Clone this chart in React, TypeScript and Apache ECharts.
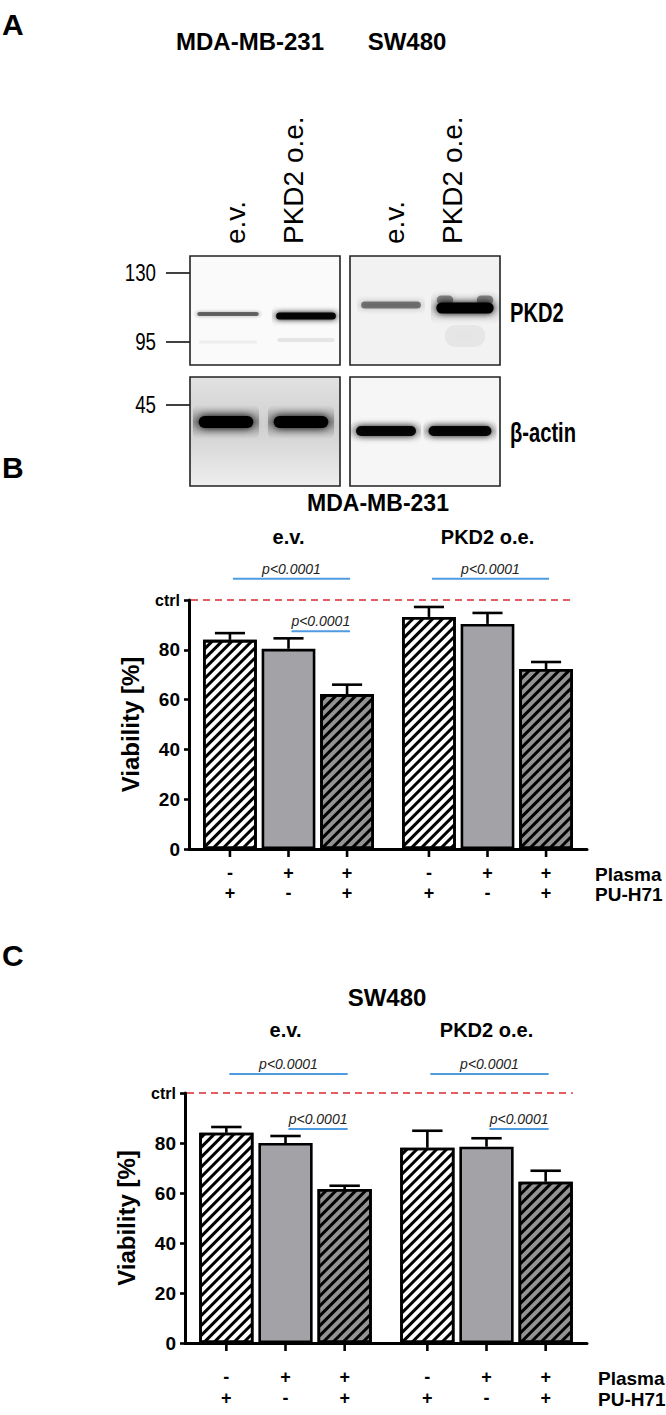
import React, { useEffect, useRef } from "react";
import * as echarts from "echarts";

// ---------- data ----------
const groups = ["e.v.", "PKD2 o.e."];
const treatments = ["PU-H71", "Plasma", "Plasma + PU-H71"];
const plasmaSigns = ["-", "+", "+"];
const puSigns = ["+", "-", "+"];
const ctrlLevel = 100;
const sigLabel = "p<0.0001";

// Panel B: MDA-MB-231 viability (%)
const mdaPU = [84, 93.2];
const mdaPlasma = [80.4, 90.4];
const mdaCombo = [62.2, 72.3];
const mdaPUErr = [2.7, 4.0];
const mdaPlasmaErr = [4.2, 4.4];
const mdaComboErr = [3.8, 2.8];
// [group, fromBar, toBar, level]
const mdaSig = [
  [0, 0, 2, 108.5],
  [1, 0, 2, 108.5],
  [0, 1, 2, 87.5],
];

// Panel C: SW480 viability (%)
const swPU = [84.1, 78.1];
const swPlasma = [80, 78.5];
const swCombo = [61.6, 64.5];
const swPUErr = [2.3, 6.8];
const swPlasmaErr = [2.8, 3.4];
const swComboErr = [1.3, 4.4];
const swSig = [
  [0, 0, 2, 107.6],
  [1, 0, 2, 107.6],
  [0, 1, 2, 85.6],
  [1, 1, 2, 85.6],
];

// Panel A: western blot
const blotCells = ["MDA-MB-231", "SW480"];
const blotLanes = ["e.v.", "PKD2 o.e."];
const markers = ["130", "95", "45"];
const pkd2Signal = [
  [0.5, 0.95],
  [0.45, 1.0],
];
const actinSignal = [
  [1.0, 1.0],
  [0.95, 0.95],
];

// ---------- styling ----------
const FONT = "'Liberation Sans', Arial, Helvetica, sans-serif";
const BAR_W = 0.27;
const BAR_GAP = 0.09;

function geom(api: any, g: number, b: number) {
  const cw = api.size([1, 0])[0];
  const bw = cw * BAR_W;
  const pitch = bw * (1 + BAR_GAP);
  return { cx: api.coord([g, 0])[0] + (b - 1) * pitch, bw, pitch };
}

const errRender = (params: any, api: any) => {
  const g = api.value(0), b = api.value(1), m = api.value(2), e = api.value(3);
  const { cx, bw } = geom(api, g, b);
  const y0 = api.coord([g, m])[1];
  const y1 = api.coord([g, m + e])[1];
  const half = bw * 0.28;
  const st = { stroke: "#000", lineWidth: 2.6 };
  return {
    type: "group",
    children: [
      { type: "line", shape: { x1: cx, y1: y0, x2: cx, y2: y1 }, style: st },
      { type: "line", shape: { x1: cx - half, y1: y1, x2: cx + half, y2: y1 }, style: st },
    ],
  };
};

const signRender = (row1: number, row2: number) => (params: any, api: any) => {
  const g = api.value(0), b = api.value(1);
  const { cx } = geom(api, g, b);
  const y = api.coord([g, 0])[1];
  const ts = { fontSize: 18, fontWeight: "bold", fill: "#000", align: "center", verticalAlign: "middle", fontFamily: FONT };
  return {
    type: "group",
    children: [
      { type: "line", shape: { x1: cx, y1: y, x2: cx, y2: y + 8 }, style: { stroke: "#000", lineWidth: 2.6 } },
      { type: "text", x: cx, y: y + row1, style: { ...ts, text: plasmaSigns[b] } },
      { type: "text", x: cx, y: y + row2, style: { ...ts, text: puSigns[b] } },
    ],
  };
};

const sigRender = (params: any, api: any) => {
  const g = api.value(0), b0 = api.value(1), b1 = api.value(2), lvl = api.value(3);
  const x0 = geom(api, g, b0).cx + 3;
  const x1 = geom(api, g, b1).cx + 3;
  const y = api.coord([g, lvl])[1];
  return {
    type: "group",
    children: [
      { type: "line", shape: { x1: x0, y1: y, x2: x1, y2: y }, style: { stroke: "#4f9be0", lineWidth: 2 } },
      {
        type: "text",
        x: (x0 + x1) / 2,
        y: y - 3,
        style: { text: sigLabel, fontSize: 14, fontStyle: "italic", fill: "#222", align: "center", verticalAlign: "bottom", fontFamily: FONT },
      },
    ],
  };
};

const ctrlRender = (params: any, api: any) => {
  const y = api.coord([0, api.value(1)])[1];
  const last = geom(api, 1, 2);
  const x0 = params.coordSys.x;
  return {
    type: "line",
    shape: { x1: x0 + 2, y1: y, x2: last.cx + last.bw / 2, y2: y },
    style: { stroke: "#dc2a2e", lineWidth: 1.6, lineDash: [7, 5] },
  };
};

const hatch = (rot: number) => ({
  symbol: "rect",
  symbolSize: 1,
  symbolKeepAspect: false,
  color: "#000",
  dashArrayX: [1, 0],
  dashArrayY: [2.8, 3.8],
  rotation: rot,
});

function panelSeries(k: number, pu: number[], pl: number[], co: number[], puE: number[], plE: number[], coE: number[], sig: number[][], row1: number, row2: number) {
  const xi = k * 2;
  const common = { type: "bar", xAxisIndex: xi, yAxisIndex: k, barWidth: BAR_W * 100 + "%", barGap: BAR_GAP * 100 + "%", silent: true };
  const border = { borderColor: "#000", borderWidth: 2.6 };
  const errData: number[][] = [];
  const signData: number[][] = [];
  [pu, pl, co].forEach((arr, b) => {
    const errs = [puE, plE, coE][b];
    arr.forEach((v, g) => errData.push([g, b, v, errs[g]]));
  });
  groups.forEach((_, g) => treatments.forEach((__, b) => signData.push([g, b])));
  return [
    { ...common, name: treatments[0], data: pu, itemStyle: { color: "#ffffff", ...border, decal: hatch(-Math.PI / 4) } },
    { ...common, name: treatments[1], data: pl, itemStyle: { color: "#a3a3a7", ...border } },
    { ...common, name: treatments[2], data: co, itemStyle: { color: "#939393", ...border, decal: hatch(-Math.PI / 4) } },
    { type: "custom", xAxisIndex: xi, yAxisIndex: k, renderItem: errRender, data: errData, encode: { x: 0, y: 2 }, clip: false, silent: true, z: 5 },
    { type: "custom", xAxisIndex: xi, yAxisIndex: k, renderItem: signRender(row1, row2), data: signData, encode: { x: 0, y: 1 }, clip: false, silent: true },
    { type: "custom", xAxisIndex: xi, yAxisIndex: k, renderItem: sigRender, data: sig, encode: { x: 0, y: 3 }, clip: false, silent: true },
    { type: "custom", xAxisIndex: xi, yAxisIndex: k, renderItem: ctrlRender, data: [[0, ctrlLevel]], encode: { x: 0, y: 1 }, clip: false, silent: true },
  ];
}

function axesFor(k: number) {
  const bottom = {
    type: "category",
    gridIndex: k,
    data: groups,
    axisLine: { show: true, lineStyle: { color: "#000", width: 3 } },
    axisTick: { show: false },
    axisLabel: { show: false },
    splitLine: { show: false },
  };
  const top = {
    type: "category",
    gridIndex: k,
    position: "top",
    data: groups,
    axisLine: { show: false },
    axisTick: { show: false },
    splitLine: { show: false },
    axisLabel: { show: true, fontSize: 20, fontWeight: "bold", color: "#000", margin: 53, fontFamily: FONT },
  };
  const y = {
    type: "value",
    gridIndex: k,
    min: 0,
    max: ctrlLevel,
    interval: 20,
    splitLine: { show: false },
    axisLine: { show: true, lineStyle: { color: "#000", width: 3 } },
    axisTick: { show: true, length: 5, lineStyle: { color: "#000", width: 2.6 } },
    axisLabel: {
      fontSize: 19,
      fontWeight: "bold",
      color: "#000",
      margin: 9,
      fontFamily: FONT,
      formatter: (v: number) => (v === ctrlLevel ? "{c|ctrl}" : String(v)),
      rich: { c: { fontSize: 16, fontWeight: "bold", color: "#000", fontFamily: FONT } },
    },
    name: "Viability [%]",
    nameLocation: "middle",
    nameGap: 47,
    nameRotate: 90,
    nameTextStyle: { fontSize: 24, fontWeight: "bold", color: "#000", fontFamily: FONT },
  };
  return { bottom, top, y };
}

// ---------- panel A graphics ----------
function T(text: string, x: number, y: number, size: number, o: any = {}) {
  return {
    type: "text",
    x,
    y,
    rotation: o.rot || 0,
    scaleX: o.sx || 1,
    silent: true,
    style: {
      text,
      fontSize: size,
      fontWeight: o.bold ? "bold" : "normal",
      fontStyle: o.italic ? "italic" : "normal",
      fontFamily: FONT,
      fill: o.color || "#000",
      align: o.align || "left",
      verticalAlign: o.va || "middle",
    },
  };
}

function vgrad(a: number) {
  return new echarts.graphic.LinearGradient(0, 0, 0, 1, [
    { offset: 0, color: "rgba(0,0,0,0)" },
    { offset: 0.5, color: `rgba(0,0,0,${a})` },
    { offset: 1, color: "rgba(0,0,0,0)" },
  ]);
}

// soft band: blurred core plus faint halo
function band(cx: number, cy: number, w: number, h: number, a: number, haloH = 0, haloA = 0) {
  const els: any[] = [];
  if (haloH > 0) {
    els.push({
      type: "rect",
      silent: true,
      shape: { x: cx - w / 2 - 2, y: cy - haloH / 2, width: w + 4, height: haloH, r: 6 },
      style: { fill: vgrad(haloA) },
    });
  }
  els.push({
    type: "rect",
    silent: true,
    shape: { x: cx - w / 2 + h * 0.3, y: cy - h / 2, width: w - h * 0.6, height: h, r: h / 2 },
    style: {
      fill: `rgba(0,0,0,${a})`,
      shadowBlur: Math.max(3, h * 0.7),
      shadowColor: `rgba(0,0,0,${a})`,
    },
  });
  return els;
}

function blotGraphics() {
  const els: any[] = [];
  els.push(T("A", 2, 24, 30, { bold: true }));
  const boxX = [190, 350];
  const boxW = 150;
  const topY = 256, botY = 377, boxH = 109;
  const titleX = [250, 407];
  blotCells.forEach((c, i) => els.push(T(c, titleX[i], 41, 24, { bold: true, align: "center" })));
  const laneLabelX = [[235, 293], [394, 452]];
  const laneX = [[228, 306], [391, 465]];
  blotCells.forEach((_, i) => {
    blotLanes.forEach((l, j) => els.push(T(l, laneLabelX[i][j], 244, 28, { rot: Math.PI / 2, align: "left", va: "middle" })));
  });
  const markerY = [273, 342, 405];
  markers.forEach((m, i) => {
    els.push(T(m, 156, markerY[i], 24, { align: "right", sx: 0.78 }));
    els.push({ type: "line", silent: true, shape: { x1: 166, y1: markerY[i], x2: 190, y2: markerY[i] }, style: { stroke: "#111", lineWidth: 1.6 } });
  });
  // box backgrounds
  boxX.forEach((x, i) => {
    els.push({ type: "rect", silent: true, shape: { x, y: topY, width: boxW, height: boxH }, style: { fill: i === 0 ? "#fafafa" : "#f2f2f2" } });
    els.push({
      type: "rect",
      silent: true,
      shape: { x, y: botY, width: boxW, height: boxH },
      style: {
        fill:
          i === 0
            ? new echarts.graphic.LinearGradient(0, 0, 0, 1, [
                { offset: 0, color: "#e2e2e2" },
                { offset: 0.45, color: "#d0d0d0" },
                { offset: 1, color: "#eeeeee" },
              ])
            : "#f6f6f6",
      },
    });
  });
  // smear under the strong SW480 band
  els.push(...band(465, 336, 54, 22, 0.05));
  els.push(...band(306, 340, 60, 4, 0.08));
  els.push(...band(228, 342, 60, 3, 0.05));
  // shoulders of the strong SW480 band (U-shaped band)
  els.push(...band(445, 300, 22, 9, 0.4));
  els.push(...band(485, 300, 22, 9, 0.4));
  // PKD2 bands
  const pkdY = [[314, 316], [305, 308]];
  const pkdH = [[4, 7], [7, 11]];
  blotCells.forEach((_, i) =>
    blotLanes.forEach((__, j) => {
      els.push(...band(laneX[i][j], pkdY[i][j], 64, pkdH[i][j], pkd2Signal[i][j], pkdH[i][j] * 3, 0.12 * pkd2Signal[i][j]));
    })
  );
  // actin bands
  const actY = [422, 431];
  const actX = [[226, 301], [386, 460]];
  const actW = [[62, 62], [66, 69]];
  blotCells.forEach((_, i) =>
    blotLanes.forEach((__, j) => {
      els.push(...band(actX[i][j], actY[i], actW[i][j], i === 0 ? 12 : 10, actinSignal[i][j], i === 0 ? 34 : 22, i === 0 ? 0.3 : 0.15));
    })
  );
  boxX.forEach((x) => {
    els.push({ type: "rect", silent: true, shape: { x, y: topY, width: boxW, height: boxH }, style: { fill: "none", stroke: "#222", lineWidth: 1.6 } });
    els.push({ type: "rect", silent: true, shape: { x, y: botY, width: boxW, height: boxH }, style: { fill: "none", stroke: "#222", lineWidth: 1.6 } });
  });
  els.push(T("PKD2", 510, 312, 28, { bold: true, sx: 0.72 }));
  els.push(T("β-actin", 510, 432, 28, { bold: true, sx: 0.72 }));
  return els;
}

function panelLabels() {
  const s = { bold: true };
  return [
    T("B", 2, 467, 30, s),
    T("MDA-MB-231", 378, 503, 23, { bold: true, align: "center" }),
    T("Plasma", 595, 874, 19, s),
    T("PU-H71", 595, 894, 19, s),
    T("C", 2, 955, 30, s),
    T("SW480", 387, 997, 24, { bold: true, align: "center" }),
    T("Plasma", 598, 1378, 19, s),
    T("PU-H71", 598, 1399, 19, s),
  ];
}

export default function App() {
  const ref = useRef<HTMLDivElement>(null);
  useEffect(() => {
    document.body.style.margin = "0";
    if (!ref.current) return;
    const chart = echarts.init(ref.current, null, { renderer: "svg" });
    const aB = axesFor(0);
    const aC = axesFor(1);
    const option: any = {
      animation: false,
      backgroundColor: "#ffffff",
      grid: [
        { left: 189, top: 600, width: 398, height: 249, containLabel: false, outerBoundsMode: "none" },
        { left: 185, top: 1093, width: 402, height: 250, containLabel: false, outerBoundsMode: "none" },
      ],
      xAxis: [aB.bottom, aB.top, aC.bottom, aC.top],
      yAxis: [aB.y, aC.y],
      series: [
        ...panelSeries(0, mdaPU, mdaPlasma, mdaCombo, mdaPUErr, mdaPlasmaErr, mdaComboErr, mdaSig, 24, 44),
        ...panelSeries(1, swPU, swPlasma, swCombo, swPUErr, swPlasmaErr, swComboErr, swSig, 34, 55),
      ],
      graphic: { elements: [...blotGraphics(), ...panelLabels()] },
    };
    chart.setOption(option);
    return () => chart.dispose();
  }, []);
  return <div ref={ref} style={{ width: 666, height: 1415 }} />;
}
